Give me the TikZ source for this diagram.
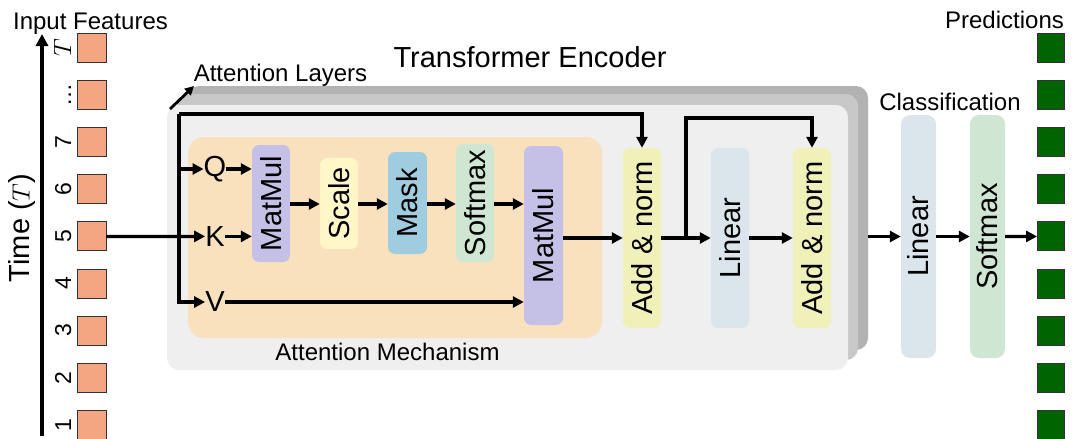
\documentclass[tikz,border=0pt]{standalone}
\usepackage{fontspec}
\setmainfont{Liberation Sans}
\usetikzlibrary{arrows.meta}

\definecolor{insq}{RGB}{244,165,130}
\definecolor{outsq}{RGB}{0,100,0}
\definecolor{encfront}{RGB}{239,239,239}
\definecolor{encmid}{RGB}{200,200,200}
\definecolor{encback}{RGB}{178,178,178}
\definecolor{attbg}{RGB}{250,225,190}
\definecolor{cmatmul}{RGB}{197,192,230}
\definecolor{cscale}{RGB}{255,247,200}
\definecolor{cmask}{RGB}{160,204,224}
\definecolor{csoftmax}{RGB}{207,230,210}
\definecolor{caddnorm}{RGB}{240,240,185}
\definecolor{clinear}{RGB}{218,230,236}

\tikzset{
  arr/.style={line width=3.2pt, -{Triangle[length=11pt,width=11pt]}},
  txt/.style={font=\fontsize{24}{28}\selectfont, inner sep=0pt},
  big/.style={font=\fontsize{29}{34}\selectfont, inner sep=0pt},
  tick/.style={font=\fontsize{23}{26}\selectfont, inner sep=0pt, rotate=90, anchor=base},
  blk/.style={rounded corners=7pt, inner sep=0pt, font=\fontsize{29}{34}\selectfont},
  insquare/.style={draw=black!80, line width=0.9pt, fill=insq, minimum width=29pt, minimum height=29pt, inner sep=0pt},
  outsquare/.style={draw=black!80, line width=0.9pt, fill=outsq, minimum width=27pt, minimum height=29pt, inner sep=0pt},
  layer/.style={rounded corners=12pt, inner sep=0pt}
}

\begin{document}
\begin{tikzpicture}[x=1pt, y=-1pt]
\useasboundingbox (0,0) rectangle (1072,439);

% time axis with the input feature vectors
\coordinate (axlo) at (42,436);
\coordinate (axhi) at (42,34);
\draw[line width=4pt, -{Triangle[length=12pt,width=12pt]}] (axlo) -- (axhi);
\node[big, rotate=90] (timelbl) at (22,228) {Time ($T$)};
\node[txt, anchor=base] (inlbl) at (90.5,29) {Input Features};

\foreach \i in {1,...,9}{
  \pgfmathsetmacro{\yy}{48+47.1*(\i-1)}
  \node[insquare] (in\i) at (91.5,\yy) {};
  \node[outsquare] (out\i) at (1051,\yy) {};
}
\node[tick] (t1) at (71,48) {\fontsize{30}{32}\selectfont$T$};
\node[tick] (t2) at (71,95.1) {\dots};
\node[tick] (t3) at (71,142.2) {7};
\node[tick] (t4) at (71,189.3) {6};
\node[tick] (t5) at (71,236.4) {5};
\node[tick] (t6) at (71,283.5) {4};
\node[tick] (t7) at (71,330.6) {3};
\node[tick] (t8) at (71,377.7) {2};
\node[tick] (t9) at (71,424.8) {1};
\node[txt, anchor=base] (predlbl) at (1004.5,28) {Predictions};

% stacked encoder layers
\node[layer, fill=encback, minimum width=681pt, minimum height=264pt] (layer3) at (527.5,218) {};
\node[layer, fill=encmid, minimum width=681pt, minimum height=266pt] (layer2) at (517.5,227) {};
\node[layer, fill=encfront, minimum width=681pt, minimum height=265pt] (layer1) at (507.5,237.5) {};
\node[big, anchor=base] (enclbl) at (530,67) {Transformer Encoder};
\node[txt, anchor=base] (layerslbl) at (280.5,81) {Attention Layers};
\coordinate (la0) at (170,109);
\coordinate (la1) at (194,86);
\draw[line width=2.8pt, -{Triangle[length=9pt,width=9pt]}] (la0) -- (la1);

% attention mechanism
\node[rounded corners=16pt, fill=attbg, minimum width=414pt, minimum height=201pt, inner sep=0pt] (att) at (395,237.5) {};
\node[txt, anchor=base] (attlbl) at (387.5,360) {Attention Mechanism};

\node[big] (Q) at (215,169) {Q};
\node[big] (K) at (215,236.4) {K};
\node[big] (V) at (215,302) {V};

\node[blk, fill=cmatmul, minimum width=38pt, minimum height=117pt] (mm1) at (271,203.5) {\rotatebox{90}{MatMul}};
\node[blk, fill=cscale, minimum width=38pt, minimum height=91pt] (scale) at (339,203.5) {\rotatebox{90}{Scale}};
\node[blk, fill=cmask, minimum width=39pt, minimum height=102pt] (mask) at (407.5,203) {\rotatebox{90}{Mask}};
\node[blk, fill=csoftmax, minimum width=38pt, minimum height=118pt] (sm) at (475,203) {\rotatebox{90}{Softmax}};
\node[blk, fill=cmatmul, minimum width=39pt, minimum height=179pt] (mm2) at (543.5,235.5) {\rotatebox{90}{MatMul}};

% residual and feed-forward part
\node[blk, fill=caddnorm, minimum width=38pt, minimum height=180pt] (add1) at (642,238) {\rotatebox{90}{Add \& norm}};
\node[blk, fill=clinear, minimum width=38pt, minimum height=180pt] (lin1) at (730,238) {\rotatebox{90}{Linear}};
\node[blk, fill=caddnorm, minimum width=38pt, minimum height=180pt] (add2) at (812,238) {\rotatebox{90}{Add \& norm}};

% classification head
\node[txt, anchor=base] (clslbl) at (950,110) {Classification};
\node[blk, rounded corners=9pt, fill=clinear, minimum width=35pt, minimum height=243pt] (lin3) at (918.5,236.5) {\rotatebox{90}{Linear}};
\node[blk, rounded corners=9pt, fill=csoftmax, minimum width=35pt, minimum height=243pt] (sm3) at (987.5,236.5) {\rotatebox{90}{Softmax}};

% connectors
\coordinate (split) at (179,114);
\coordinate (br) at (686,238);
\coordinate (brtop) at (686,118);

\draw[arr] (in5.east) -- (K.west);
\draw[arr] (split) -| (add1.north);
\draw[arr] (split) |- (V.west);
\draw[arr] (split |- Q) -- (Q.west);
\draw[arr] (Q.east) -- (mm1.west |- Q);
\draw[arr] (K.east) -- (mm1.west |- K);
\draw[arr] (V.east) -- (mm2.west |- V);
\draw[arr] (mm1.east |- 0,204) -- (scale.west |- 0,204);
\draw[arr] (scale.east |- 0,204) -- (mask.west |- 0,204);
\draw[arr] (mask.east |- 0,204) -- (sm.west |- 0,204);
\draw[arr] (sm.east |- 0,204) -- (mm2.west |- 0,204);
\draw[arr] (mm2.east |- add1.west) -- (add1.west);
\draw[arr] (add1.east) -- (lin1.west);
\draw[arr] (br) -- (brtop) -| (add2.north);
\draw[arr] (lin1.east) -- (add2.west);
\draw[arr] (layer3.east |- lin3.west) -- (lin3.west);
\draw[arr] (lin3.east) -- (sm3.west);
\draw[arr] (sm3.east) -- (out5.west);
\end{tikzpicture}
\end{document}
